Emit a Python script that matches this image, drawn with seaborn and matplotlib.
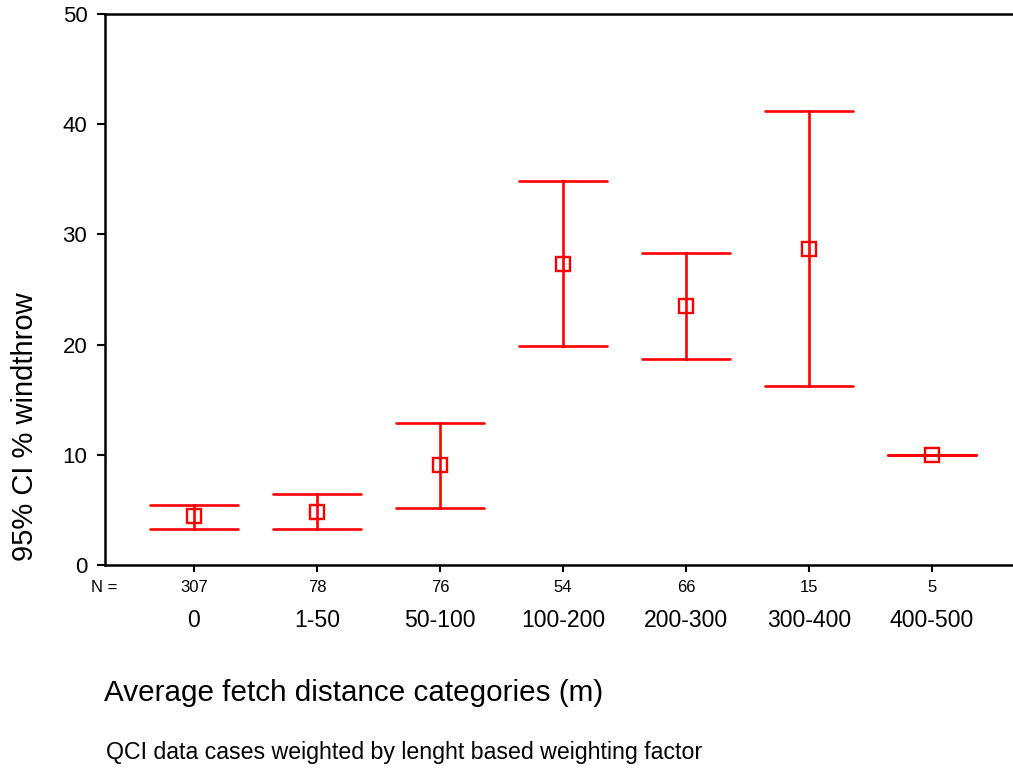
import matplotlib
matplotlib.use("Agg")
import matplotlib.pyplot as plt
import matplotlib.transforms as mtransforms
import seaborn as sns
import pandas as pd

categories = ["0", "1-50", "50-100", "100-200", "200-300", "300-400", "400-500"]
n_cases = [307, 78, 76, 54, 66, 15, 5]
means = [4.45, 4.8, 9.05, 27.3, 23.5, 28.7, 10.0]
ci_low = [3.3, 3.3, 5.2, 19.9, 18.7, 16.2, 10.0]
ci_high = [5.4, 6.4, 12.9, 34.85, 28.3, 41.2, 10.0]

rows = []
for c, lo, m, hi in zip(categories, ci_low, means, ci_high):
    for v in (lo, m, hi):
        rows.append({"cat": c, "val": v})
df = pd.DataFrame(rows)

sns.set_theme(style="ticks")
plt.rcParams["font.family"] = ["Liberation Sans", "DejaVu Sans"]
plt.rcParams["text.color"] = "black"
plt.rcParams["xtick.color"] = "black"
plt.rcParams["ytick.color"] = "black"
plt.rcParams["xtick.labelcolor"] = "black"
plt.rcParams["ytick.labelcolor"] = "black"

fig = plt.figure(figsize=(10.13, 7.71), dpi=100)
ax = fig.add_axes([105.4 / 1013, 206 / 771, (1020.6 - 105.4) / 1013, (565 - 14) / 771])

sns.pointplot(
    data=df, x="cat", y="val", order=categories,
    estimator="median", errorbar=lambda v: (min(v), max(v)),
    capsize=0.72, linestyle="none", marker="s", color="red",
    markersize=10.5, err_kws={"linewidth": 1.9}, ax=ax,
)
for ln in ax.lines:
    if ln.get_marker() == "s":
        ln.set_markerfacecolor("none")
        ln.set_markeredgecolor("red")
        ln.set_markeredgewidth(1.7)
        ln.set_zorder(5)

ax.set_xlim(-0.72, 6.72)
ax.set_ylim(0, 50)
ax.set_yticks([0, 10, 20, 30, 40, 50])
ax.tick_params(axis="y", labelsize=16, length=6, width=1.5, colors="black", pad=7)
ax.tick_params(axis="x", labelsize=16.6, length=5, width=1.5, colors="black", pad=27)
ax.set_xlabel("")
ax.set_ylabel("")
for s in ["left", "bottom", "top"]:
    ax.spines[s].set_visible(True)
    ax.spines[s].set_color("black")
    ax.spines[s].set_linewidth(1.8)
ax.spines["right"].set_visible(False)

trans = mtransforms.blended_transform_factory(ax.transData, fig.transFigure)
ny = (771 - 588) / 771
for i, n in enumerate(n_cases):
    ax.text(i, ny, str(n), transform=trans, ha="center", va="center",
            fontsize=12, color="black")
fig.text(117 / 1013, ny, "N =", ha="right", va="center", fontsize=12, color="black")

fig.text(25 / 1013, (771 - 427) / 771, "95% CI % windthrow", rotation=90,
         ha="center", va="center", fontsize=21, color="black")
fig.text(104 / 1013, (771 - 693) / 771, "Average fetch distance categories (m)",
         ha="left", va="center", fontsize=21.3, color="black")
fig.text(106 / 1013, (771 - 752) / 771,
         "QCI data cases weighted by lenght based weighting factor",
         ha="left", va="center", fontsize=16.7, color="black")

fig.savefig("out.png", dpi=100)
